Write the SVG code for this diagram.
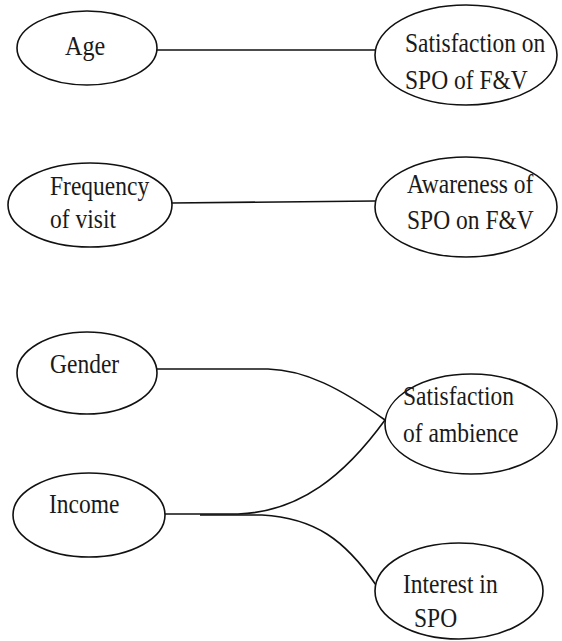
<svg xmlns="http://www.w3.org/2000/svg" width="562" height="641" viewBox="0 0 562 641">
<style>
.n ellipse{fill:#fff;stroke:#111;stroke-width:1.6}
.n text{font-family:"Liberation Serif","Times New Roman","DejaVu Serif",serif;font-size:28px;fill:#1a1a1a}
.c path{fill:none;stroke:#111;stroke-width:1.6}
</style>
<rect width="562" height="641" fill="#fff"/>
<g class="c" id="connectors">
<path d="M157,50 L375,50"/>
<path d="M172,203 L375,201"/>
<path d="M157,369 L268,369 C305,370 340,388 385,420"/>
<path d="M165,514 L238,514 C300,512 345,475 385,420"/>
<path d="M200,515 L262,515 C315,518 345,540 376,585"/>
</g>
<g class="n" id="n-age"><ellipse cx="87" cy="48" rx="70" ry="37"/><text transform="translate(65,55) scale(0.86,1)">Age</text></g>
<g class="n" id="n-sat-spo"><ellipse cx="466" cy="55" rx="91" ry="50"/><text transform="translate(405,52) scale(0.84,1)">Satisfaction on</text><text transform="translate(405,89) scale(0.84,1)">SPO of F&amp;V</text></g>
<g class="n" id="n-freq"><ellipse cx="90" cy="205" rx="82" ry="42"/><text transform="translate(50,195) scale(0.84,1)">Frequency</text><text transform="translate(50,228) scale(0.84,1)">of visit</text></g>
<g class="n" id="n-aware"><ellipse cx="466" cy="207" rx="91" ry="50"/><text transform="translate(407,193) scale(0.84,1)">Awareness of</text><text transform="translate(407,229) scale(0.84,1)">SPO on F&amp;V</text></g>
<g class="n" id="n-gender"><ellipse cx="87" cy="373" rx="70" ry="41"/><text transform="translate(50,373) scale(0.84,1)">Gender</text></g>
<g class="n" id="n-ambience"><ellipse cx="471" cy="424" rx="86" ry="50"/><text transform="translate(403,405) scale(0.84,1)">Satisfaction</text><text transform="translate(403,442) scale(0.84,1)">of ambience</text></g>
<g class="n" id="n-income"><ellipse cx="89" cy="515" rx="76" ry="42"/><text transform="translate(49,513) scale(0.84,1)">Income</text></g>
<g class="n" id="n-interest"><ellipse cx="459" cy="591" rx="84" ry="48"/><text transform="translate(403,593) scale(0.84,1)">Interest in</text><text transform="translate(414,627) scale(0.84,1)">SPO</text></g>
</svg>
